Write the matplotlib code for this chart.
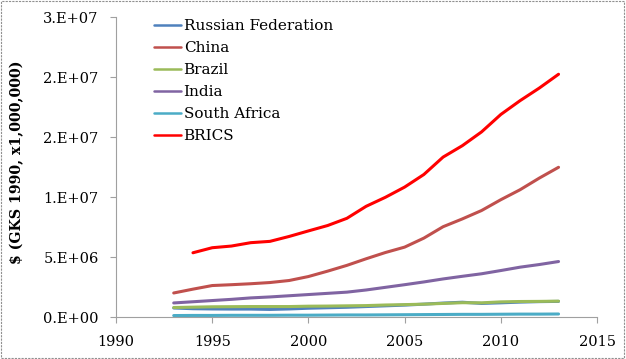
import matplotlib
matplotlib.use("Agg")
import matplotlib.pyplot as plt
from matplotlib.patches import Rectangle
from matplotlib.ticker import FixedLocator, FixedFormatter

years = list(range(1993, 2014))
brics_years = list(range(1994, 2014))

russia = [0.78, 0.72, 0.70, 0.69, 0.69, 0.66, 0.70, 0.76, 0.80, 0.84, 0.90, 0.96,
          1.02, 1.10, 1.19, 1.26, 1.16, 1.21, 1.27, 1.31, 1.33]
china = [2.03, 2.35, 2.65, 2.72, 2.80, 2.90, 3.07, 3.40, 3.85, 4.33, 4.88, 5.40,
         5.85, 6.60, 7.55, 8.20, 8.90, 9.80, 10.63, 11.60, 12.50]
brazil = [0.82, 0.85, 0.88, 0.89, 0.90, 0.90, 0.90, 0.93, 0.94, 0.96, 0.98, 1.03,
          1.06, 1.10, 1.16, 1.22, 1.21, 1.29, 1.32, 1.33, 1.35]
india = [1.20, 1.30, 1.40, 1.50, 1.62, 1.70, 1.80, 1.90, 2.00, 2.10, 2.28, 2.50,
         2.72, 2.95, 3.20, 3.42, 3.63, 3.90, 4.18, 4.40, 4.65]
south_africa = [0.15, 0.16, 0.16, 0.17, 0.17, 0.17, 0.18, 0.18, 0.19, 0.20, 0.20, 0.21,
                0.22, 0.23, 0.24, 0.25, 0.25, 0.26, 0.27, 0.27, 0.28]
brics = [5.38, 5.80, 5.94, 6.22, 6.33, 6.74, 7.20, 7.65, 8.25, 9.25, 10.00,
         10.85, 11.90, 13.35, 14.30, 15.45, 16.90, 18.05, 19.10, 20.25]

series_names = ["Russian Federation", "China", "Brazil", "India", "South Africa", "BRICS"]
colors = ["#4F81BD", "#C0504D", "#9BBB59", "#8064A2", "#4BACC6", "#FF0000"]

y_ticks = [0, 5e6, 1e7, 1.5e7, 2e7, 2.5e7]
y_labels = ["0.E+00", "5.E+06", "1.E+07", "2.E+07", "2.E+07", "3.E+07"]
x_ticks = [1990, 1995, 2000, 2005, 2010, 2015]

plt.rcParams['font.family'] = ['DejaVu Serif']

fig = plt.figure(figsize=(6.26, 3.59), dpi=100)
ax = fig.add_axes([0.1853, 0.116, 0.7684, 0.836])

data = [(years, russia), (years, china), (years, brazil), (years, india),
        (years, south_africa), (brics_years, brics)]
for (xs, ys), name, c in zip(data, series_names, colors):
    ax.plot(xs, [v * 1e6 for v in ys], color=c, lw=2.2, label=name,
            solid_capstyle='round', solid_joinstyle='round')

ax.set_xlim(1990, 2015)
ax.set_ylim(0, 2.5e7)
ax.yaxis.set_major_locator(FixedLocator(y_ticks))
ax.yaxis.set_major_formatter(FixedFormatter(y_labels))
ax.set_xticks(x_ticks)
ax.set_xticklabels([str(x) for x in x_ticks])

for s in ["top", "right"]:
    ax.spines[s].set_visible(False)
for s in ["left", "bottom"]:
    ax.spines[s].set_color("#A0A0A0")
    ax.spines[s].set_linewidth(0.8)
ax.tick_params(axis='both', colors="#A0A0A0", labelcolor="black", labelsize=10.5,
               length=4.5, direction='out')
ax.tick_params(axis='y', pad=8)
ax.tick_params(axis='x', pad=8.5)

ax.set_ylabel("$ (GKS 1990, x1,000,000)", fontsize=10.2, fontweight='bold')
ax.yaxis.set_label_coords(-0.19, 0.516)

leg = ax.legend(loc='upper left', bbox_to_anchor=(0.066, 1.013), frameon=False,
                fontsize=11, handlelength=1.75, handletextpad=0.2,
                labelspacing=0.52, borderaxespad=0)
for line in leg.get_lines():
    line.set_linewidth(1.8)

fig.patches.append(Rectangle((0.002, 0.003), 0.995, 0.993, transform=fig.transFigure,
                             fill=False, edgecolor="#909090", linestyle=(0, (2, 1)),
                             linewidth=0.8))

fig.savefig("out.png", dpi=100)
